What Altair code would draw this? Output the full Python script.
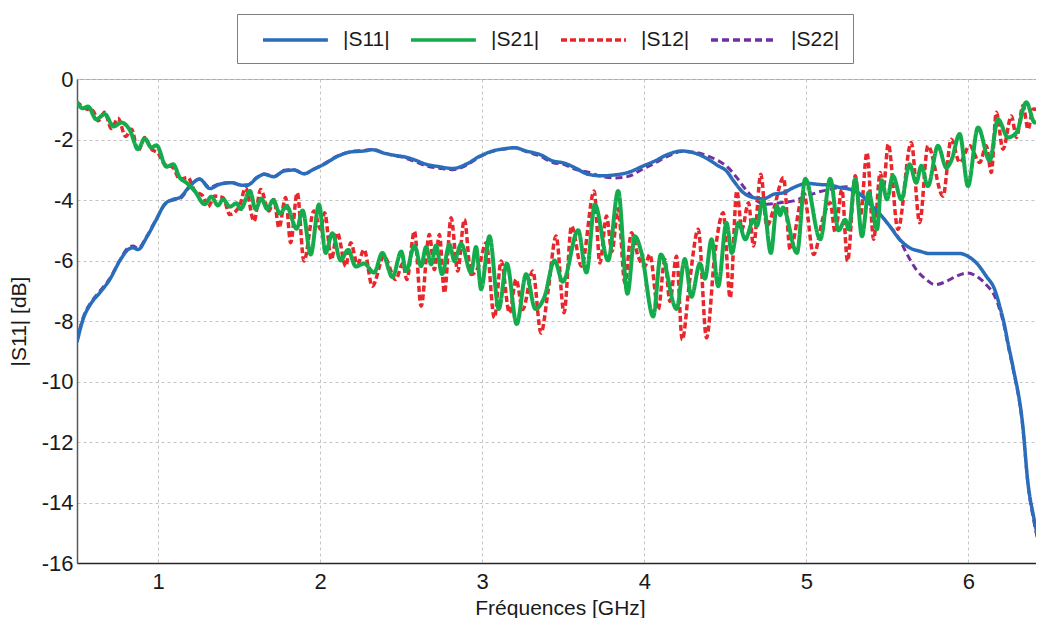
import altair as alt
import pandas as pd

FONT = "Liberation Sans"

# ---------------- data ----------------
S11_F = [0.50, 0.537, 0.589, 0.64, 0.702, 0.763, 0.815, 0.845, 0.877, 0.928, 0.99, 1.041, 1.093, 1.134,
         1.196, 1.257, 1.319, 1.381, 1.453, 1.514, 1.551, 1.612, 1.654, 1.715, 1.777, 1.839, 1.9, 1.962,
         2.024, 2.106, 2.189, 2.271, 2.322, 2.394, 2.456, 2.508, 2.571, 2.654, 2.736, 2.818, 2.9, 2.983,
         3.065, 3.147, 3.199, 3.271, 3.353, 3.435, 3.507, 3.571, 3.654, 3.736, 3.818, 3.9, 3.983, 4.065,
         4.147, 4.23, 4.312, 4.394, 4.456, 4.507, 4.551, 4.612, 4.674, 4.736, 4.798, 4.859, 4.921, 5.003,
         5.086, 5.147, 5.209, 5.271, 5.333, 5.394, 5.456, 5.514, 5.575, 5.637, 5.699, 5.761, 5.864, 5.946,
         5.997, 6.049, 6.11, 6.162, 6.193, 6.224, 6.244, 6.274, 6.336, 6.366, 6.403, 6.464]
S11_DB = [-8.70, -7.95, -7.40, -7.07, -6.63, -6.02, -5.64, -5.58, -5.64, -5.25, -4.64, -4.14, -3.98, -3.92,
          -3.54, -3.31, -3.62, -3.48, -3.43, -3.51, -3.51, -3.26, -3.15, -3.23, -3.04, -3.01, -3.13, -2.98,
          -2.82, -2.56, -2.41, -2.38, -2.34, -2.45, -2.52, -2.56, -2.65, -2.82, -2.90, -2.96, -2.82, -2.56,
          -2.38, -2.30, -2.27, -2.38, -2.49, -2.71, -2.78, -2.93, -3.15, -3.20, -3.17, -3.09, -2.90, -2.71,
          -2.49, -2.38, -2.45, -2.65, -2.87, -3.04, -3.37, -3.76, -3.92, -3.96, -3.81, -3.76, -3.59, -3.45,
          -3.49, -3.51, -3.59, -3.65, -3.81, -4.14, -4.48, -4.86, -5.30, -5.58, -5.69, -5.77, -5.77, -5.77,
          -5.86, -6.08, -6.52, -6.96, -7.51, -8.18, -8.73, -9.50, -11.5, -13.3, -14.5, -15.9]

S22_F = [0.50, 0.537, 0.589, 0.64, 0.702, 0.763, 0.815, 0.845, 0.877, 0.928, 0.99, 1.041, 1.093, 1.134,
         1.196, 1.257, 1.319, 1.381, 1.453, 1.514, 1.551, 1.612, 1.654, 1.715, 1.777, 1.839, 1.9, 1.962,
         2.024, 2.106, 2.189, 2.271, 2.322, 2.394, 2.456, 2.508, 2.571, 2.654, 2.736, 2.818, 2.9, 2.983,
         3.065, 3.147, 3.199, 3.271, 3.353, 3.435, 3.507, 3.571, 3.654, 3.736, 3.818, 3.9, 3.983, 4.065,
         4.147, 4.23, 4.312, 4.394, 4.456, 4.507, 4.571, 4.633, 4.695, 4.756, 4.839, 4.921, 5.003, 5.086,
         5.168, 5.25, 5.333, 5.394, 5.456, 5.514, 5.575, 5.617, 5.678, 5.74, 5.792, 5.864, 5.925, 5.997,
         6.049, 6.11, 6.162, 6.193, 6.224, 6.244, 6.274, 6.336, 6.366, 6.403, 6.464]
S22_DB = [-8.65, -7.90, -7.36, -7.02, -6.60, -6.00, -5.58, -5.52, -5.60, -5.22, -4.62, -4.16, -4.00, -3.96,
          -3.56, -3.30, -3.58, -3.46, -3.42, -3.50, -3.50, -3.24, -3.14, -3.22, -3.02, -3.00, -3.14, -2.98,
          -2.80, -2.55, -2.40, -2.36, -2.33, -2.44, -2.53, -2.58, -2.70, -2.87, -2.95, -3.00, -2.86, -2.58,
          -2.39, -2.31, -2.27, -2.40, -2.54, -2.76, -2.83, -2.98, -3.08, -3.22, -3.27, -3.22, -3.00, -2.78,
          -2.55, -2.40, -2.42, -2.55, -2.70, -2.88, -3.26, -3.70, -4.03, -4.14, -4.09, -4.03, -3.87, -3.72,
          -3.62, -3.56, -3.81, -4.14, -4.48, -4.86, -5.30, -5.75, -6.30, -6.63, -6.80, -6.69, -6.52, -6.41,
          -6.52, -6.80, -7.18, -7.62, -8.25, -8.80, -9.55, -11.55, -13.35, -14.6, -16.0]

S21_F = [0.496, 0.537, 0.568, 0.619, 0.671, 0.726, 0.774, 0.825, 0.877, 0.918, 0.959, 0.99, 1.052, 1.093,
         1.134, 1.175, 1.226, 1.288, 1.329, 1.37, 1.401, 1.443, 1.484, 1.51, 1.567, 1.602, 1.637, 1.674,
         1.711, 1.752, 1.793, 1.855, 1.892, 1.942, 1.993, 2.034, 2.075, 2.127, 2.172, 2.22, 2.271, 2.333,
         2.384, 2.446, 2.501, 2.53, 2.582, 2.623, 2.654, 2.685, 2.715, 2.752, 2.798, 2.829, 2.87, 2.931,
         2.962, 2.993, 3.045, 3.102, 3.152, 3.213, 3.271, 3.328, 3.384, 3.446, 3.497, 3.592, 3.643, 3.695,
         3.777, 3.839, 3.896, 3.942, 3.983, 4.055, 4.102, 4.199, 4.25, 4.291, 4.343, 4.374, 4.415, 4.456,
         4.507, 4.54, 4.582, 4.623, 4.674, 4.695, 4.732, 4.781, 4.818, 4.839, 4.855, 4.942, 4.993, 5.086,
         5.147, 5.199, 5.24, 5.261, 5.302, 5.343, 5.384, 5.436, 5.465, 5.497, 5.534, 5.586, 5.637, 5.678,
         5.709, 5.75, 5.812, 5.864, 5.894, 5.946, 5.997, 6.059, 6.131, 6.182, 6.244, 6.296, 6.357, 6.409,
         6.464]
S21_DB = [-0.75, -0.97, -0.91, -1.33, -1.16, -1.57, -1.44, -1.68, -2.32, -1.97, -2.27, -2.19, -2.90, -2.82,
          -3.26, -3.43, -3.70, -4.14, -3.89, -4.18, -3.98, -4.22, -4.11, -4.30, -3.70, -4.30, -3.95, -4.30,
          -4.00, -4.45, -4.20, -4.95, -4.35, -5.80, -4.15, -5.75, -5.10, -6.00, -5.65, -6.20, -6.10, -6.40,
          -5.75, -6.55, -5.70, -6.35, -5.52, -6.19, -5.55, -6.13, -5.50, -6.45, -5.47, -6.02, -5.45, -6.40,
          -5.55, -6.95, -5.20, -7.60, -6.10, -8.10, -6.45, -7.60, -7.20, -6.00, -6.70, -5.00, -6.40, -4.15,
          -6.00, -3.70, -7.10, -5.20, -5.75, -7.85, -5.80, -7.60, -5.95, -7.20, -6.10, -6.60, -5.30, -6.85,
          -4.75, -5.75, -4.75, -5.30, -4.65, -4.85, -4.00, -5.75, -4.20, -4.50, -4.25, -5.75, -3.30, -5.30,
          -3.30, -5.00, -4.65, -4.97, -3.30, -5.20, -3.75, -4.97, -3.35, -3.98, -3.20, -3.98, -2.82, -3.43,
          -2.87, -3.54, -2.21, -2.93, -2.70, -1.82, -3.54, -1.60, -2.70, -1.33, -1.93, -1.77, -0.77, -1.44,
          -1.19]

S12_F = [0.496, 0.558, 0.599, 0.63, 0.671, 0.712, 0.753, 0.80, 0.836, 0.877, 0.918, 0.959, 1.0, 1.041,
         1.093, 1.134, 1.185, 1.226, 1.278, 1.309, 1.35, 1.401, 1.443, 1.504, 1.54, 1.592, 1.633, 1.684,
         1.715, 1.746, 1.787, 1.818, 1.859, 1.90, 1.962, 2.003, 2.028, 2.069, 2.106, 2.158, 2.189, 2.23,
         2.271, 2.322, 2.394, 2.466, 2.51, 2.535, 2.582, 2.623, 2.674, 2.705, 2.736, 2.767, 2.808, 2.849,
         2.89, 2.931, 2.983, 3.024, 3.075, 3.117, 3.168, 3.209, 3.25, 3.312, 3.363, 3.405, 3.456, 3.505,
         3.551, 3.612, 3.691, 3.726, 3.767, 3.80, 3.839, 3.88, 3.921, 3.962, 4.003, 4.034, 4.086, 4.127,
         4.158, 4.199, 4.234, 4.281, 4.333, 4.384, 4.436, 4.487, 4.53, 4.571, 4.602, 4.643, 4.674, 4.719,
         4.756, 4.798, 4.859, 4.90, 4.983, 5.045, 5.106, 5.147, 5.178, 5.219, 5.254, 5.302, 5.333, 5.374,
         5.415, 5.456, 5.475, 5.505, 5.565, 5.647, 5.699, 5.75, 5.843, 5.894, 5.946, 6.008, 6.069, 6.11,
         6.141, 6.172, 6.213, 6.265, 6.296, 6.337, 6.368, 6.399, 6.464]
S12_DB = [-0.75, -0.99, -1.05, -1.38, -1.10, -1.64, -1.30, -1.90, -1.66, -2.38, -1.93, -2.32, -2.45, -2.82,
          -2.93, -3.31, -3.26, -3.70, -3.87, -4.22, -3.87, -3.92, -4.48, -4.18, -3.59, -4.70, -3.65, -4.36,
          -3.98, -4.92, -3.92, -5.41, -3.76, -6.02, -4.36, -4.97, -4.42, -5.97, -5.08, -6.19, -5.41, -6.13,
          -5.64, -6.85, -5.86, -6.63, -6.10, -6.63, -5.03, -7.51, -5.14, -6.30, -5.14, -7.07, -4.59, -6.35,
          -4.64, -6.46, -6.13, -5.41, -7.90, -6.02, -7.73, -6.63, -7.62, -6.35, -8.40, -7.07, -5.19, -7.73,
          -4.86, -6.19, -3.70, -6.08, -4.53, -5.70, -4.29, -6.74, -5.08, -5.86, -6.19, -5.80, -7.62, -5.97,
          -7.35, -5.86, -8.62, -6.63, -4.97, -8.56, -5.75, -4.42, -7.24, -3.70, -4.97, -4.09, -5.52, -3.15,
          -4.86, -4.31, -3.26, -5.64, -3.76, -5.80, -4.53, -4.09, -5.08, -3.65, -6.02, -3.20, -4.53, -2.43,
          -5.30, -3.09, -3.60, -2.15, -4.97, -2.10, -4.75, -2.21, -3.87, -1.99, -2.76, -2.21, -2.76, -2.21,
          -3.09, -1.10, -2.32, -1.22, -1.93, -0.88, -1.66, -0.99, -1.10]

NAMES = ["|S11|", "|S21|", "|S12|", "|S22|"]
COLORS = ["#2A6EBB", "#14AB4C", "#E8262B", "#7030A0"]
DASHES = [[1, 0], [1, 0], [6, 3], [7, 4]]
WIDTHS = {"|S11|": 3.5, "|S21|": 4.0, "|S12|": 3.5, "|S22|": 3.0}

series = {"|S11|": (S11_F, S11_DB), "|S21|": (S21_F, S21_DB),
          "|S12|": (S12_F, S12_DB), "|S22|": (S22_F, S22_DB)}
rows = []
for name, (fs, ds) in series.items():
    for f, d in zip(fs, ds):
        rows.append({"f": f, "db": d, "s": name})
df = pd.DataFrame(rows)

# legend line symbol: a horizontal stroke drawn from 0 to ~65 px, with a small "size" so rows stay low
legend = alt.Legend(
    orient="none", legendX=160, legendY=-65, direction="horizontal", title=None,
    strokeColor="#7f7f7f", fillColor="white", padding=13,
    symbolType="M0,0H5.9", symbolSize=484, symbolStrokeWidth=3.5,
    labelFont=FONT, labelFontSize=21, labelColor="#1a1a1a", labelOffset=67,
    columnPadding=8,
)

x = alt.X("f:Q", scale=alt.Scale(domain=[0.5, 6.46], nice=False, zero=False),
          axis=alt.Axis(values=[1, 2, 3, 4, 5, 6], title="Fréquences [GHz]", labelPadding=8,
                        titleBaseline="alphabetic", titleY=51, domainColor="#262626"))
y = alt.Y("db:Q", scale=alt.Scale(domain=[-16, 0], nice=False),
          axis=alt.Axis(values=list(range(-16, 1, 2)), title="|S11| [dB]", labelPadding=4,
                        titlePadding=12, domainColor="#595959", labelExpr="'' + datum.value"))
color = alt.Color("s:N", scale=alt.Scale(domain=NAMES, range=COLORS), legend=legend)
dash = alt.StrokeDash("s:N", scale=alt.Scale(domain=NAMES, range=DASHES), legend=legend)

base = alt.Chart(df).encode(x=x, y=y, color=color, strokeDash=dash)

layers = []
for name in ["|S22|", "|S12|", "|S11|", "|S21|"]:
    layers.append(
        base.transform_filter(alt.datum.s == name)
        .mark_line(strokeWidth=WIDTHS[name], interpolate="monotone", clip=True)
    )

chart = (
    alt.layer(*layers)
    .properties(width=966, height=484, autosize="none",
                padding={"left": 69, "top": 71, "right": -7, "bottom": 55},
                background="white")
    .configure_view(stroke="#a6a6a6", strokeWidth=1)
    .configure_axis(grid=True, gridColor="#c4c4c4", gridDash=[3, 3], gridWidth=1, ticks=False,
                    labelFont=FONT, labelFontSize=22, labelColor="#1a1a1a",
                    titleFont=FONT, titleFontSize=21, titleFontWeight="normal", titleColor="#1a1a1a",
                    domainWidth=1.5)
)

chart.save("out.html", embed_options={"renderer": "svg", "actions": False})
